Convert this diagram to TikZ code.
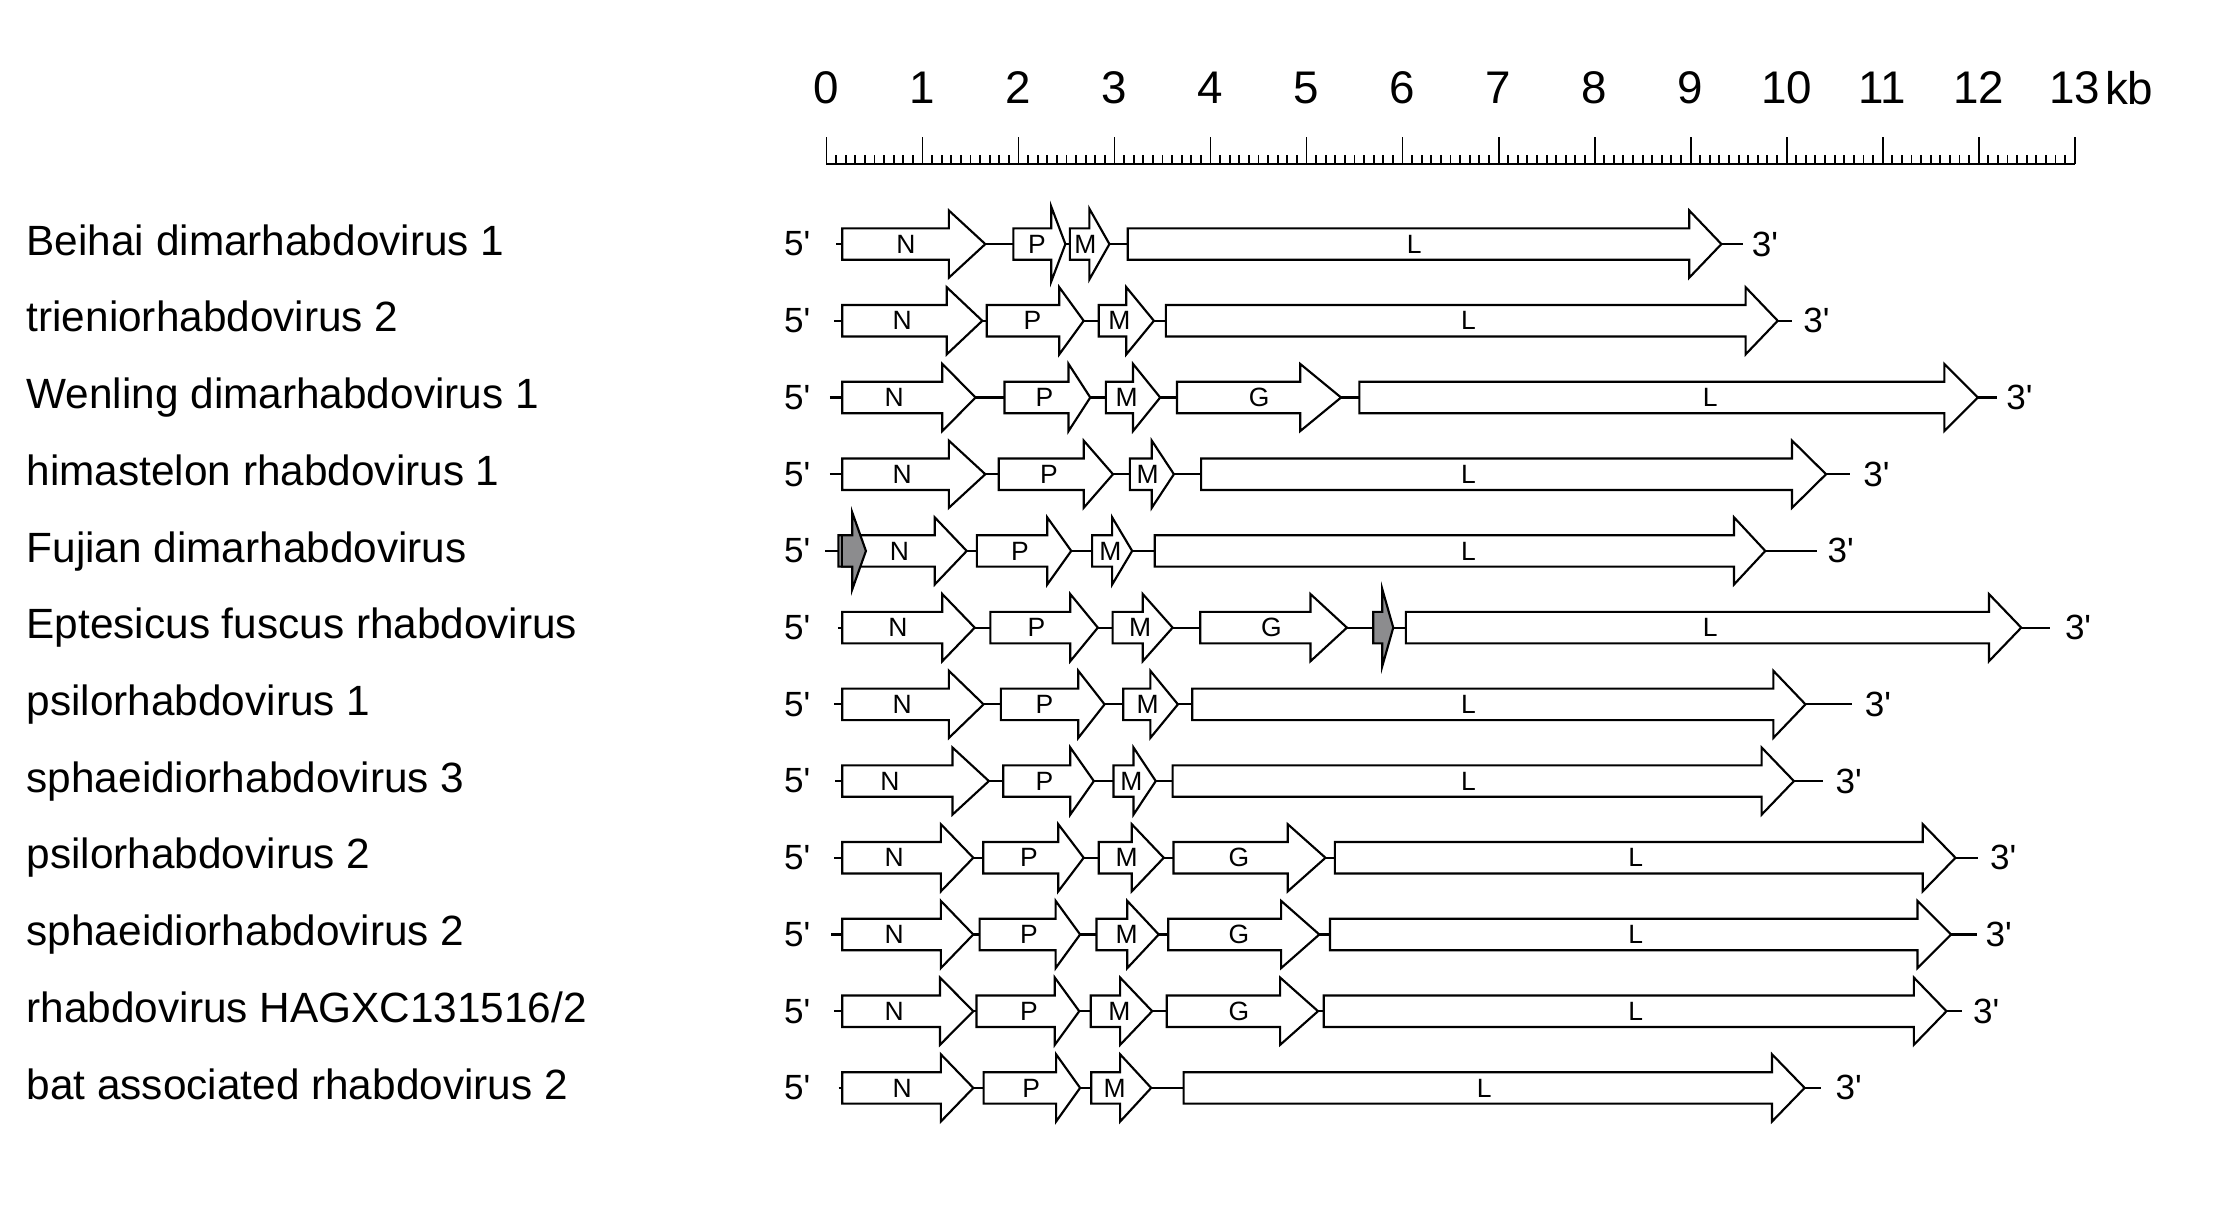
\documentclass[tikz,border=0pt]{standalone}
\usepackage{fontspec}
\setmainfont{Liberation Sans}
\newfontfamily\primefont{Liberation Sans}[Ligatures=TeXOff]
\tikzset{
  gene/.style={draw=black, fill=white, line width=1.5pt, line join=miter},
  greygene/.style={draw=black, fill={rgb,255:red,140;green,140;blue,142}, line width=1.5pt, line join=miter},
  backbone/.style={draw=black, line width=1.5pt},
  glab/.style={inner sep=0pt, font=\fontsize{18.5}{20}\selectfont},
  fivelab/.style={inner sep=0pt, font=\primefont\fontsize{24.5}{26}\selectfont},
  threelab/.style={inner sep=0pt, anchor=west, font=\primefont\fontsize{24.5}{26}\selectfont},
  species/.style={inner sep=0pt, anchor=base west, font=\fontsize{29.6}{32}\selectfont},
  numlab/.style={inner sep=0pt, font=\fontsize{32}{34}\selectfont},
  rulerline/.style={draw=black, line width=1.6pt},
  ticks/.style={draw=black, line width=1.3pt},
}
% #1 head half-height, #2 row y, #3 start, #4 head start, #5 tip, #6 style
\newcommand{\garrow}[6][23.5]{%
  \draw[#6] (#3,#2-11) -- (#4,#2-11) -- (#4,#2-#1) -- (#5,#2) -- (#4,#2+#1) -- (#4,#2+11) -- (#3,#2+11) -- cycle;}
% row frame: #1 name, #2 y, #3 line start, #4 line end, #5 3' x
\newcommand{\rowframe}[5]{%
  \coordinate (s#1) at (#3,#2);
  \coordinate (e#1) at (#4,#2);
  \draw[backbone] (s#1) -- (e#1);
  \node[fivelab] (five#1) at (557.5,#2) {5'};
  \node[threelab] (three#1) at (#5,#2) {3'};}
\begin{document}
\begin{tikzpicture}[x=1pt,y=-1pt]
\useasboundingbox (0,0) rectangle (1561,846.95);
\fill[white] (0,0) rectangle (1561,846.95);

% ruler
\coordinate (r0) at (578,114.7);
\coordinate (r13) at (1451,114.7);
\foreach \i in {0,...,130} {\draw[ticks] (578+\i*6.715,114.7) -- (578+\i*6.715,108.4);}
\foreach \k in {0,...,13} {
  \draw[ticks] (578+\k*67.15,114.7) -- (578+\k*67.15,96);
  \node[numlab] (num\k) at (578+\k*67.15,61.4) {\k};
}
\draw[rulerline] (r0) -- (r13);
\node[numlab, anchor=west] (kb) at (1472,61.4) {kb};

% species labels
\node[species] (sp1) at (18.5,178.5) {Beihai dimarhabdovirus 1};
\node[species] (sp2) at (18.5,232.15) {trieniorhabdovirus 2};
\node[species] (sp3) at (18.5,285.8) {Wenling dimarhabdovirus 1};
\node[species] (sp4) at (18.5,339.45) {himastelon rhabdovirus 1};
\node[species] (sp5) at (18.5,393.1) {Fujian dimarhabdovirus};
\node[species] (sp6) at (18.5,446.75) {Eptesicus fuscus rhabdovirus};
\node[species] (sp7) at (18.5,500.4) {psilorhabdovirus 1};
\node[species] (sp8) at (18.5,554.05) {sphaeidiorhabdovirus 3};
\node[species] (sp9) at (18.5,607.7) {psilorhabdovirus 2};
\node[species] (sp10) at (18.5,661.35) {sphaeidiorhabdovirus 2};
\node[species] (sp11) at (18.5,715.0) {rhabdovirus HAGXC131516/2};
\node[species] (sp12) at (18.5,768.65) {bat associated rhabdovirus 2};

% Row 1
\rowframe{1}{170.7}{585}{1218.9}{1225}
\garrow{170.7}{589}{663.6}{689.1}{gene}
\garrow[26.2]{170.7}{708.7}{735.2}{745.1}{gene}
\garrow[24.7]{170.7}{748.2}{761.9}{775.9}{gene}
\garrow{170.7}{788.7}{1181.4}{1203.9}{gene}
\node[glab] (n1) at (633.5,170.7) {N};
\node[glab] (p1) at (725.2,170.7) {P};
\node[glab] (m1) at (759.1,170.7) {M};
\node[glab] (l1) at (989,170.7) {L};

% Row 2
\rowframe{2}{224.35}{583.4}{1253.3}{1261}
\garrow{224.35}{589}{662.1}{687}{gene}
\garrow{224.35}{690.1}{740.8}{757.9}{gene}
\garrow{224.35}{768.4}{787.7}{807}{gene}
\garrow{224.35}{815.4}{1220.8}{1243.3}{gene}
\node[glab] (n2) at (631,224.35) {N};
\node[glab] (p2) at (722.1,224.35) {P};
\node[glab] (m2) at (782.8,224.35) {M};
\node[glab] (l2) at (1027,224.35) {L};

% Row 3
\rowframe{3}{278}{580.3}{1396.4}{1403}
\garrow{278}{589}{659}{682.3}{gene}
\garrow{278}{702.5}{747.3}{762.5}{gene}
\garrow{278}{773.4}{792.4}{811.4}{gene}
\garrow{278}{823.2}{909.3}{937.9}{gene}
\garrow{278}{950.7}{1359.8}{1383.2}{gene}
\node[glab] (n3) at (625.4,278) {N};
\node[glab] (p3) at (730.5,278) {P};
\node[glab] (m3) at (788,278) {M};
\node[glab] (g3) at (880.7,278) {G};
\node[glab] (l3) at (1196,278) {L};

% Row 4
\rowframe{4}{331.65}{580.3}{1294}{1303}
\garrow{331.65}{589}{663.6}{689.1}{gene}
\garrow{331.65}{698.5}{757.9}{778.4}{gene}
\garrow{331.65}{790.2}{805.5}{821}{gene}
\garrow{331.65}{840}{1253.3}{1277.1}{gene}
\node[glab] (n4) at (631,331.65) {N};
\node[glab] (p4) at (733.6,331.65) {P};
\node[glab] (m4) at (802.7,331.65) {M};
\node[glab] (l4) at (1027,331.65) {L};

% Row 5
\rowframe{5}{385.3}{577}{1270.6}{1278}
\garrow{385.3}{589}{653.7}{676.1}{gene}
\garrow[27]{385.3}{586.3}{596}{605.6}{greygene}
\draw[backbone] (589,374.3) -- (589,396.3);
\garrow{385.3}{683.2}{732.4}{749.2}{gene}
\garrow{385.3}{763.8}{777.8}{791.8}{gene}
\garrow{385.3}{807.6}{1212.7}{1234.6}{gene}
\node[glab] (n5) at (629,385.3) {N};
\node[glab] (p5) at (713.4,385.3) {P};
\node[glab] (m5) at (776.5,385.3) {M};
\node[glab] (l5) at (1027,385.3) {L};

% Row 6
\rowframe{6}{438.95}{585.9}{1434}{1444}
\garrow{438.95}{589}{659}{681.7}{gene}
\garrow{438.95}{692.6}{748.5}{767.8}{gene}
\garrow{438.95}{778.1}{799.2}{820.1}{gene}
\garrow{438.95}{839.4}{916.5}{942}{gene}
\garrow[27]{438.95}{960.4}{966.7}{974.4}{greygene}
\garrow{438.95}{983.2}{1391}{1413.6}{gene}
\node[glab] (n6) at (627.9,438.95) {N};
\node[glab] (p6) at (724.9,438.95) {P};
\node[glab] (m6) at (797.4,438.95) {M};
\node[glab] (g6) at (889.1,438.95) {G};
\node[glab] (l6) at (1196,438.95) {L};

% Row 7
\rowframe{7}{492.6}{583.4}{1295}{1304}
\garrow{492.6}{589}{663.6}{687.9}{gene}
\garrow{492.6}{700}{754.1}{772.5}{gene}
\garrow{492.6}{785.6}{804.5}{823.8}{gene}
\garrow{492.6}{833.8}{1240.2}{1262.7}{gene}
\node[glab] (n7) at (631,492.6) {N};
\node[glab] (p7) at (730.5,492.6) {P};
\node[glab] (m7) at (802.7,492.6) {M};
\node[glab] (l7) at (1027,492.6) {L};

% Row 8
\rowframe{8}{546.25}{584.3}{1274.6}{1283.6}
\garrow{546.25}{589}{666.1}{691.6}{gene}
\garrow{546.25}{701.6}{748.5}{765}{gene}
\garrow{546.25}{778.7}{792.7}{808.3}{gene}
\garrow{546.25}{820.1}{1232}{1254.6}{gene}
\node[glab] (n8) at (622.3,546.25) {N};
\node[glab] (p8) at (730.5,546.25) {P};
\node[glab] (m8) at (791.2,546.25) {M};
\node[glab] (l8) at (1027,546.25) {L};

% Row 9
\rowframe{9}{599.9}{583.4}{1383.2}{1391.6}
\garrow{599.9}{589}{658}{680.7}{gene}
\garrow{599.9}{687.6}{740.1}{757.9}{gene}
\garrow{599.9}{768.4}{791.5}{813.9}{gene}
\garrow{599.9}{820.7}{900.6}{927}{gene}
\garrow{599.9}{933.6}{1344.7}{1367.6}{gene}
\node[glab] (n9) at (625.4,599.9) {N};
\node[glab] (p9) at (719.6,599.9) {P};
\node[glab] (m9) at (788,599.9) {M};
\node[glab] (g9) at (866.4,599.9) {G};
\node[glab] (l9) at (1144,599.9) {L};

% Row 10
\rowframe{10}{653.55}{581.2}{1382.3}{1388.5}
\garrow{653.55}{589}{658}{680.7}{gene}
\garrow{653.55}{685.1}{738.3}{755.4}{gene}
\garrow{653.55}{766.9}{788.4}{810.4}{gene}
\garrow{653.55}{817}{896}{922.7}{gene}
\garrow{653.55}{930.2}{1341}{1364.5}{gene}
\node[glab] (n10) at (625.4,653.55) {N};
\node[glab] (p10) at (719.6,653.55) {P};
\node[glab] (m10) at (788,653.55) {M};
\node[glab] (g10) at (866.4,653.55) {G};
\node[glab] (l10) at (1144,653.55) {L};

% Row 11
\rowframe{11}{707.2}{583.4}{1372.3}{1379.7}
\garrow{707.2}{589}{657.4}{680.7}{gene}
\garrow{707.2}{682.9}{737.7}{754.8}{gene}
\garrow{707.2}{762.8}{783.4}{805.8}{gene}
\garrow{707.2}{816}{895.3}{921.8}{gene}
\garrow{707.2}{925.8}{1338.5}{1361.3}{gene}
\node[glab] (n11) at (625.4,707.2) {N};
\node[glab] (p11) at (719.6,707.2) {P};
\node[glab] (m11) at (782.8,707.2) {M};
\node[glab] (g11) at (866.4,707.2) {G};
\node[glab] (l11) at (1144,707.2) {L};

% Row 12
\rowframe{12}{760.85}{586.5}{1273.7}{1283.6}
\garrow{760.85}{589}{658}{680.7}{gene}
\garrow{760.85}{687.9}{738.6}{755.4}{gene}
\garrow{760.85}{763.2}{783.4}{805.1}{gene}
\garrow{760.85}{827.8}{1239.3}{1262.1}{gene}
\node[glab] (n12) at (631,760.85) {N};
\node[glab] (p12) at (721.2,760.85) {P};
\node[glab] (m12) at (779.6,760.85) {M};
\node[glab] (l12) at (1038,760.85) {L};
\end{tikzpicture}
\end{document}
